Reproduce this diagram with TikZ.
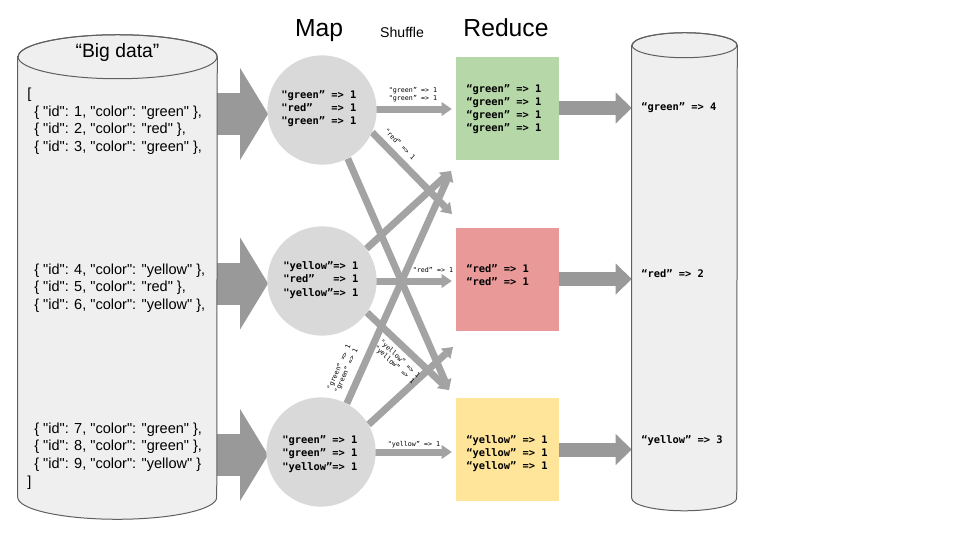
\documentclass[tikz,border=0pt]{standalone}
\usepackage{fontspec}
\setmainfont{Liberation Sans}
\newfontfamily\jsonfont{Liberation Sans}
\newfontfamily\monofont{DejaVu Sans Mono}
\usetikzlibrary{arrows.meta,calc}
\pgfdeclarelayer{bg}
\pgfsetlayers{bg,main}
\definecolor{cylfill}{HTML}{EFEFEF}
\definecolor{cylline}{HTML}{5F5F5F}
\definecolor{circfill}{HTML}{D9D9D9}
\definecolor{bigarr}{HTML}{999999}
\definecolor{thinarr}{HTML}{A3A3A3}
\definecolor{gfill}{HTML}{B6D7A8}
\definecolor{rfill}{HTML}{EA9999}
\definecolor{yfill}{HTML}{FFE599}
\tikzset{
  mapcirc/.style={circle, fill=circfill, minimum size=82pt, inner sep=0pt},
  redbox/.style={rectangle, minimum size=77.25pt, inner sep=0pt},
  jsontxt/.style={anchor=west, align=left, inner sep=0pt, font=\jsonfont\fontsize{10.9pt}{13.1pt}\selectfont},
  monotxt/.style={anchor=west, align=left, inner sep=0pt, font=\monofont\bfseries\fontsize{7.8pt}{10pt}\selectfont},
  redtxt/.style={anchor=west, align=left, inner sep=0pt, font=\monofont\bfseries\fontsize{7.8pt}{9.75pt}\selectfont},
  lbltxt/.style={align=center, inner sep=0pt, font=\monofont\fontsize{5pt}{6pt}\selectfont},
  headtxt/.style={anchor=base, inner sep=0pt, font=\fontsize{18.5pt}{22pt}\selectfont},
  bigarrow/.style={color=bigarr, line width=31.5pt, -{Triangle[length=21pt, width=69pt, line width=0pt]}},
  outarrow/.style={color=bigarr, line width=10.5pt, -{Triangle[length=12pt, width=23.25pt, line width=0pt]}},
  thinarrow/.style={color=thinarr, line width=5.25pt, -{Triangle[length=7.5pt, width=10.5pt, line width=0pt]}},
  cylbody/.style={fill=cylfill, draw=cylline, line width=0.75pt},
}
\begin{document}
\begin{tikzpicture}[x=0.75pt, y=-0.75pt]
\useasboundingbox (0,0) rectangle (960,540);

% titles
\node[headtxt] (map) at (319,36) {Map};
\node[headtxt, font=\fontsize{10.6pt}{12pt}\selectfont] (shuffle) at (402,37) {Shuffle};
\node[headtxt] (reduce) at (506,36) {Reduce};

% left cylinder
\node[minimum width=149.25pt, minimum height=330pt, inner sep=0pt] (lc) at (117.5,277) {};
\path[cylbody] (lc.north west) -- (lc.south west)
  arc[start angle=180, end angle=0, x radius=99.5, y radius=22]
  -- (lc.north east)
  arc[start angle=0, end angle=-180, x radius=99.5, y radius=22] -- cycle;
\draw[cylline, line width=0.75pt] (lc.north) ellipse[x radius=99.5, y radius=22];
\node[headtxt, font=\fontsize{14.5pt}{17pt}\selectfont] (bigdata) at (117.5,57) {“Big data”};
\node[jsontxt] (lbr) at (27,95) {[};
\node[jsontxt] (j1) at (34,130) {\{ "id": 1, "color": "green" \},\\\{ "id": 2, "color": "red" \},\\\{ "id": 3, "color": "green" \},};
\node[jsontxt] (j2) at (34,288) {\{ "id": 4, "color": "yellow" \},\\\{ "id": 5, "color": "red" \},\\\{ "id": 6, "color": "yellow" \},};
\node[jsontxt] (j3) at (34,447) {\{ "id": 7, "color": "green" \},\\\{ "id": 8, "color": "green" \},\\\{ "id": 9, "color": "yellow" \}};
\node[jsontxt] (rbr) at (27,483) {]};

% right cylinder
\node[minimum width=78.75pt, minimum height=339.4pt, inner sep=0pt] (rc) at (684.5,271.75) {};
\path[cylbody] (rc.north west) -- (rc.south west)
  arc[start angle=180, end angle=0, x radius=52.5, y radius=12.5]
  -- (rc.north east)
  arc[start angle=0, end angle=-180, x radius=52.5, y radius=12.5] -- cycle;
\draw[cylline, line width=0.75pt] (rc.north) ellipse[x radius=52.5, y radius=12.5];
\node[monotxt] (o1) at (641,108) {“green”~=>~4};
\node[monotxt] (o2) at (641,274) {“red”~=>~2};
\node[monotxt] (o3) at (641,441) {“yellow”~=>~3};

% map circles
\node[mapcirc] (c1) at (322,110) {};
\node[mapcirc] (c2) at (322,281) {};
\node[mapcirc] (c3) at (321,452) {};
\node[monotxt] (t1) at (281,108.5) {"green”~=>~1\\"red”~~~=>~1\\"green”~=>~1};
\node[monotxt] (t2) at (283,280) {"yellow”=>~1\\"red”~~~=>~1\\"yellow”=>~1};
\node[monotxt] (t3) at (282,454) {"green”~=>~1\\"green”~=>~1\\"yellow”=>~1};

% reduce boxes
\node[redbox, fill=gfill] (gbox) at (507.5,108) {};
\node[redbox, fill=rfill] (rbox) at (507.5,279) {};
\node[redbox, fill=yfill] (ybox) at (507.5,449.5) {};
\node[redtxt] (gt) at (466,109.5) {“green”~=>~1\\“green”~=>~1\\“green”~=>~1\\“green”~=>~1};
\node[redtxt] (rt) at (466,275.5) {“red”~=>~1\\“red”~=>~1};
\node[redtxt] (yt) at (466,454) {“yellow”~=>~1\\“yellow”~=>~1\\“yellow”~=>~1};

% arrow tips
\coordinate (tA) at (452,214);
\coordinate (tB) at (449,390);
\coordinate (tC) at (451,171);
\coordinate (tE) at (453,347);

\begin{pgfonlayer}{bg}
  \draw[bigarrow] ($(lc.east |- c1.west)+(-10,4)$) -- ($(c1.west)+(1,4)$);
  \draw[bigarrow] ($(lc.east |- c2.west)+(-10,2.5)$) -- ($(c2.west)+(1,2.5)$);
  \draw[bigarrow] ($(lc.east |- c3.west)+(-10,3)$) -- ($(c3.west)+(2,3)$);
  \draw[thinarrow, shorten >=3pt] ($(c1.east)+(-5,-1)$) -- ($(c1.east -| gbox.west)+(0,-1)$);
  \draw[thinarrow, shorten >=3pt] ($(c2.east)+(-5,0)$) -- (c2.east -| rbox.west);
  \draw[thinarrow, shorten >=3pt] ($(c3.east)+(-5,0)$) -- (c3.east -| ybox.west);
  \draw[thinarrow] (c1.-24) -- (tA);
  \draw[thinarrow] (c1.-62) -- (tB);
  \draw[thinarrow] (c2.36) -- (tC);
  \draw[thinarrow] (c2.-35) -- (tB);
  \draw[thinarrow] (c3.62) -- (tC);
  \draw[thinarrow] (c3.30) -- (tE);
  \draw[outarrow] (gbox.east) -- (gbox.east -| rc.west);
  \draw[outarrow] (rbox.east) -- (rbox.east -| rc.west);
  \draw[outarrow] (ybox.east) -- (ybox.east -| rc.west);
\end{pgfonlayer}

% shuffle labels
\node[lbltxt] (lg) at (413,95) {"green” => 1\\"green” => 1};
\node[lbltxt] (lr) at (433,270) {"red” => 1};
\node[lbltxt] (ly) at (414,445) {"yellow” => 1};
\node[lbltxt, rotate=-45] (lr2) at (400,144) {"red” => 1};
\node[lbltxt, rotate=-43] (ly2) at (397,362) {"yellow” => 1\\"yellow” => 1};
\node[lbltxt, rotate=66] (lg2) at (343,369) {"green” => 1\\"green” => 1};
\end{tikzpicture}
\end{document}
